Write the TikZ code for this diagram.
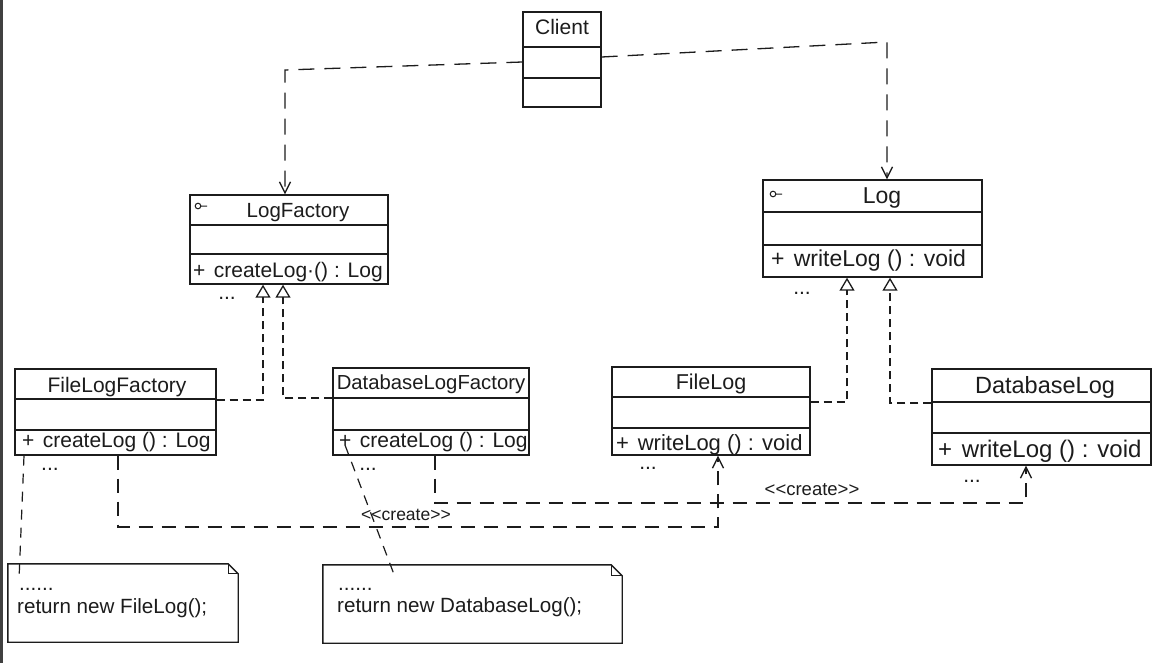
\documentclass[tikz,border=0pt]{standalone}
\usepackage{fontspec}
\setmainfont{Liberation Sans}
\usetikzlibrary{arrows.meta}
\definecolor{ink}{HTML}{1C1C1C}
\tikzset{
  clsbox/.style={draw=ink, line width=1.4pt, rectangle, inner sep=0pt},
  clsline/.style={draw=ink, line width=1.2pt},
  tx/.style={inner sep=0pt, text=ink, font=\fontsize{21}{25}\selectfont},
  lbl/.style={inner sep=0pt, text=ink, font=\fontsize{17.5}{21}\selectfont},
  dep/.style={draw=ink, line width=1.3pt, dash pattern=on 16pt off 10pt},
  crt/.style={draw=ink, line width=1.3pt, dash pattern=on 14pt off 9pt},
  real/.style={draw=ink, line width=1.3pt, dash pattern=on 8pt off 5pt},
  anchorln/.style={draw=ink, line width=1.2pt, dash pattern=on 10pt off 8pt},
  vee/.style={-{Straight Barb[length=11pt,width=11pt,line width=1.3pt]}},
  tri/.style={-{Triangle[open,length=13pt,width=15pt,line width=1.3pt]}},
  icon/.style={draw=ink, line width=1pt},
  notebox/.style={draw=ink, line width=1.4pt},
  fold/.style={draw=ink, line width=1pt},
}
\newcommand\umlbox[7]{%
  \node[clsbox, minimum width={#4-#2}, minimum height={#5-#3}] (#1) at ({(#2+#4)/2},{(#3+#5)/2}) {};
  \draw[clsline] (#2,#6) -- (#4,#6);
  \draw[clsline] (#2,#7) -- (#4,#7);
}
\begin{document}
\begin{tikzpicture}[x=1pt,y=-1pt]
\useasboundingbox (0,0) rectangle (1155,663);
\fill[white] (0,0) rectangle (1155,663);
\fill[black!75] (0,0) rectangle (3,663);

% Client
\umlbox{client}{523}{12}{601}{107}{47}{78}
\node[tx, anchor=base] (clientN) at (562,35) {Client};

% LogFactory
\umlbox{lf}{190}{195}{388}{284}{225}{254}
\node[tx, font=\fontsize{20.5}{24}\selectfont, anchor=base] (lfN) at (298,217) {LogFactory};
\node[tx, anchor=base west] (lfM) at (193,277) {+\hspace{0.4em}createLog·() : Log};
\draw[icon] (198,206) circle[radius=2.8pt] (200.8,206) -- (207,206);
\node[tx] (lfD) at (227,298) {...};

% Log
\umlbox{log}{763}{180}{982}{277}{212}{245}
\node[tx, font=\fontsize{23}{27}\selectfont, anchor=base] (logN) at (882,203) {Log};
\node[tx, font=\fontsize{23}{27}\selectfont, anchor=base west] (logM) at (771,266) {+\hspace{0.4em}writeLog () : void};
\draw[icon] (773,194) circle[radius=2.8pt] (775.8,194) -- (782,194);
\node[tx] (logD) at (802,293) {...};

% FileLogFactory
\umlbox{flf}{15}{369}{216}{455}{399}{430}
\node[tx, anchor=base] (flfN) at (117,392) {FileLogFactory};
\node[tx, anchor=base west] (flfM) at (22,447) {+\hspace{0.4em}createLog () : Log};
\node[tx] (flfD) at (50,469) {...};

% DatabaseLogFactory
\umlbox{dlf}{333}{368}{529}{455}{398}{430}
\node[tx, font=\fontsize{20.3}{24}\selectfont, anchor=base] (dlfN) at (431,389) {DatabaseLogFactory};
\node[tx, anchor=base west] (dlfM) at (339,447) {+\hspace{0.4em}createLog () : Log};
\node[tx] (dlfD) at (368,469) {...};

% FileLog
\umlbox{fl}{612}{367}{810}{455}{397}{428}
\node[tx, font=\fontsize{21.5}{25}\selectfont, anchor=base] (flN) at (711,389) {FileLog};
\node[tx, font=\fontsize{22}{26}\selectfont, anchor=base west] (flM) at (616,450) {+\hspace{0.4em}writeLog () : void};
\node[tx] (flD) at (648,468) {...};

% DatabaseLog
\umlbox{dl}{932}{369}{1151}{465}{402}{433}
\node[tx, font=\fontsize{23.5}{27}\selectfont, anchor=base] (dlN) at (1045,393) {DatabaseLog};
\node[tx, font=\fontsize{24}{28}\selectfont, anchor=base west] (dlM) at (938,457) {+\hspace{0.4em}writeLog () : void};
\node[tx] (dlD) at (972,481) {...};

% Notes
\node[inner sep=0pt, minimum width=230, minimum height=78] (note1) at (123,603) {};
\draw[notebox] (note1.north west) -- ([xshift=-10pt]note1.north east) -- ([yshift=-10pt]note1.north east) -- (note1.south east) -- (note1.south west) -- cycle;
\draw[fold] ([xshift=-10pt]note1.north east) -- ([xshift=-10pt,yshift=-10pt]note1.north east) -- ([yshift=-10pt]note1.north east);
\node[tx, font=\fontsize{20.6}{24}\selectfont, anchor=base west] (n1a) at (19,590) {......};
\node[tx, font=\fontsize{20.6}{24}\selectfont, anchor=base west] (n1b) at (17,613) {return new FileLog();};

\node[inner sep=0pt, minimum width=299, minimum height=78] (note2) at (472.5,604) {};
\draw[notebox] (note2.north west) -- ([xshift=-11pt]note2.north east) -- ([yshift=-11pt]note2.north east) -- (note2.south east) -- (note2.south west) -- cycle;
\draw[fold] ([xshift=-11pt]note2.north east) -- ([xshift=-11pt,yshift=-11pt]note2.north east) -- ([yshift=-11pt]note2.north east);
\node[tx, font=\fontsize{20.6}{24}\selectfont, anchor=base west] (n2a) at (338,590) {......};
\node[tx, font=\fontsize{20.6}{24}\selectfont, anchor=base west] (n2b) at (337,612) {return new DatabaseLog();};

% Client dependencies
\coordinate (ka) at (285,70);
\coordinate (kb) at (887,42);
\draw[dep, vee] ([yshift=-2.5pt]client.west) -- (ka) -- (lf.north -| ka);
\draw[dep, vee] ([yshift=2.5pt]client.east) -- (kb) -- (log.north -| kb);

% Realizations
\coordinate (r1) at (263,400);
\coordinate (r2) at (283,398);
\coordinate (r3) at (847,402);
\coordinate (r4) at (890,403);
\draw[real, tri] (flf.east |- r1) -- (r1) -- (lf.south -| r1);
\draw[real, tri] (dlf.west |- r2) -- (r2) -- (lf.south -| r2);
\draw[real, tri] (fl.east |- r3) -- (r3) -- (log.south -| r3);
\draw[real, tri] (dl.west |- r4) -- (r4) -- (log.south -| r4);

% Create dependencies
\coordinate (q1) at (118,527);
\coordinate (q1b) at (718,527);
\coordinate (q2) at (435,503);
\coordinate (q2b) at (1026,503);
\draw[crt, vee] (flf.south -| q1) -- (q1) -- (q1b) -- (fl.south -| q1b);
\draw[crt, vee] (dlf.south -| q2) -- (q2) -- (q2b) -- (dl.south -| q2b);
\node[lbl, anchor=base] (cr1) at (406,520) {{<}{<}create{>}{>}};
\node[lbl, font=\fontsize{18.5}{22}\selectfont, anchor=base] (cr2) at (812,495) {{<}{<}create{>}{>}};

% Note anchors
\coordinate (n1x) at (24,0);
\coordinate (n1e) at (19,580);
\coordinate (n2s) at (345,445);
\coordinate (n2e) at (395,577);
\draw[anchorln] (flf.south -| n1x) -- (n1e);
\draw[anchorln] (n2s) -- (n2e);
\end{tikzpicture}
\end{document}
